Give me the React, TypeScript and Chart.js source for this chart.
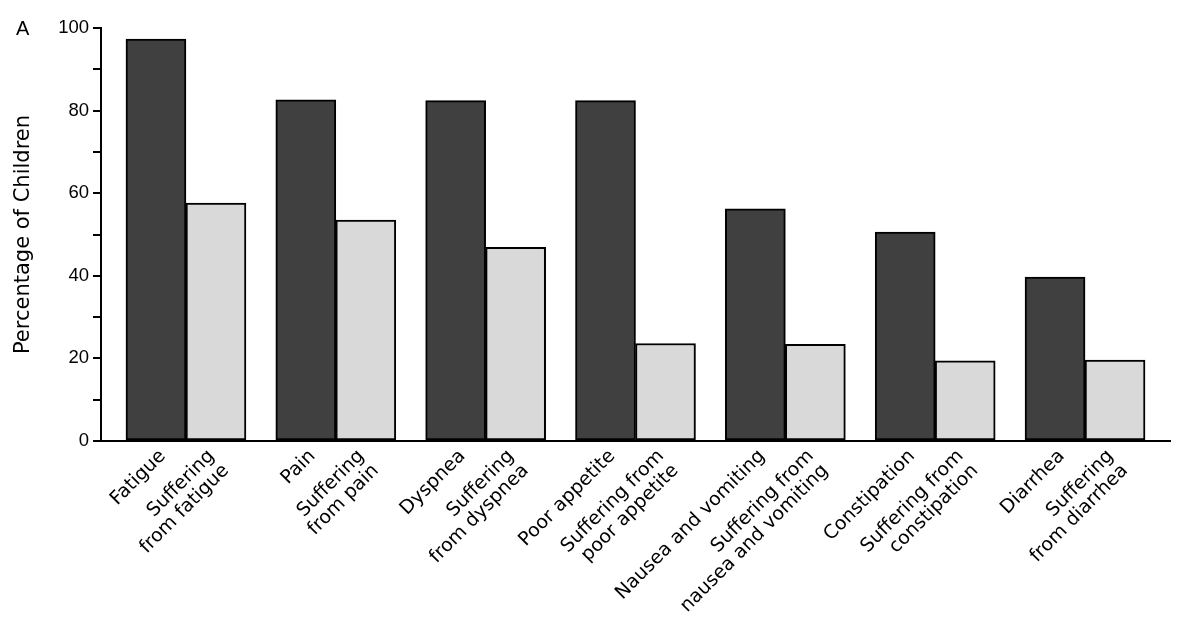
import React, { useEffect, useRef } from 'react';
import { Chart, registerables } from 'chart.js';

Chart.register(...registerables);

const symptomLabels: string[][] = [
  ['Fatigue'],
  ['Pain'],
  ['Dyspnea'],
  ['Poor appetite'],
  ['Nausea and vomiting'],
  ['Constipation'],
  ['Diarrhea'],
];

const sufferingLabels: string[][] = [
  ['Suffering', 'from fatigue'],
  ['Suffering', 'from pain'],
  ['Suffering', 'from dyspnea'],
  ['Suffering from', 'poor appetite'],
  ['Suffering from', 'nausea and vomiting'],
  ['Suffering from', 'constipation'],
  ['Suffering', 'from diarrhea'],
];

const symptomValues: number[] = [97.3, 82.6, 82.4, 82.4, 56.2, 50.6, 39.7];
const sufferingValues: number[] = [57.6, 53.5, 46.9, 23.6, 23.4, 19.4, 19.6];

const yAxisTitle = 'Percentage of Children';
const panelLetter = 'A';

export default function App() {
  const ref = useRef<HTMLCanvasElement>(null);

  useEffect(() => {
    const tickValues: number[] = [];
    const tickTexts: string[][] = [];
    symptomLabels.forEach((lab, i) => {
      tickValues.push(i - 0.155);
      tickTexts.push(lab);
      tickValues.push(i + 0.17);
      tickTexts.push(sufferingLabels[i]);
    });

    const panelLabel = {
      id: 'panelLabel',
      afterDraw(chart: any) {
        const ctx = chart.ctx;
        ctx.save();
        ctx.font = '20px "Liberation Sans"';
        ctx.fillStyle = '#000';
        ctx.textBaseline = 'alphabetic';
        ctx.textAlign = 'left';
        ctx.fillText(panelLetter, 16, 35);
        ctx.restore();
      },
    };

    const chart = new Chart(ref.current!, {
      type: 'bar',
      data: {
        datasets: [
          {
            label: 'Symptom',
            data: symptomValues.map((v, i) => ({ x: i, y: v })),
            backgroundColor: '#404040',
            borderColor: '#000',
            borderWidth: 2,
            borderSkipped: false,
            barThickness: 60,
          },
          {
            label: 'Suffering',
            data: sufferingValues.map((v, i) => ({ x: i, y: v })),
            backgroundColor: '#d9d9d9',
            borderColor: '#000',
            borderWidth: 2,
            borderSkipped: false,
            barThickness: 60,
          },
        ],
      } as any,
      options: {
        animation: false,
        responsive: false,
        devicePixelRatio: 1,
        layout: { padding: { left: 0, right: 14, top: 28, bottom: 0 } },
        plugins: {
          legend: { display: false },
          tooltip: { enabled: false },
        },
        scales: {
          x: {
            type: 'linear',
            min: -0.567,
            max: 6.567,
            bounds: 'data',
            offset: false,
            afterBuildTicks: (axis: any) => {
              axis.ticks = tickValues.map((v) => ({ value: v }));
            },
            afterFit: (axis: any) => {
              axis.height = 177;
            },
            grid: { display: false, drawTicks: false },
            border: { display: true, color: '#000', width: 2 },
            ticks: {
              autoSkip: false,
              minRotation: 45,
              maxRotation: 45,
              padding: 5,
              color: '#000',
              font: { family: 'DejaVu Sans', size: 19, lineHeight: 1.08 },
              callback: (_v: any, i: number) => tickTexts[i],
            },
          },
          y: {
            min: 0,
            max: 100,
            afterFit: (axis: any) => {
              axis.width = 101;
            },
            grid: {
              drawOnChartArea: false,
              drawTicks: true,
              tickLength: 8,
              color: '#000',
              lineWidth: 2,
            },
            border: { display: true, color: '#000', width: 2 },
            ticks: {
              stepSize: 10,
              padding: 4,
              color: '#000',
              font: { family: 'Liberation Sans', size: 18.5 },
              callback: (v: any) => (Number(v) % 20 === 0 ? String(v) : ''),
            },
            title: {
              display: true,
              text: yAxisTitle,
              color: '#000',
              font: { family: 'DejaVu Sans', size: 21 },
              padding: { top: 11, bottom: 0 },
            },
          },
        },
      } as any,
      plugins: [panelLabel],
    });
    return () => chart.destroy();
  }, []);

  return (
    <div style={{ position: 'fixed', left: 0, top: 0, width: 1184, height: 618 }}>
      <canvas ref={ref} width={1184} height={618} style={{ display: 'block' }} />
    </div>
  );
}
